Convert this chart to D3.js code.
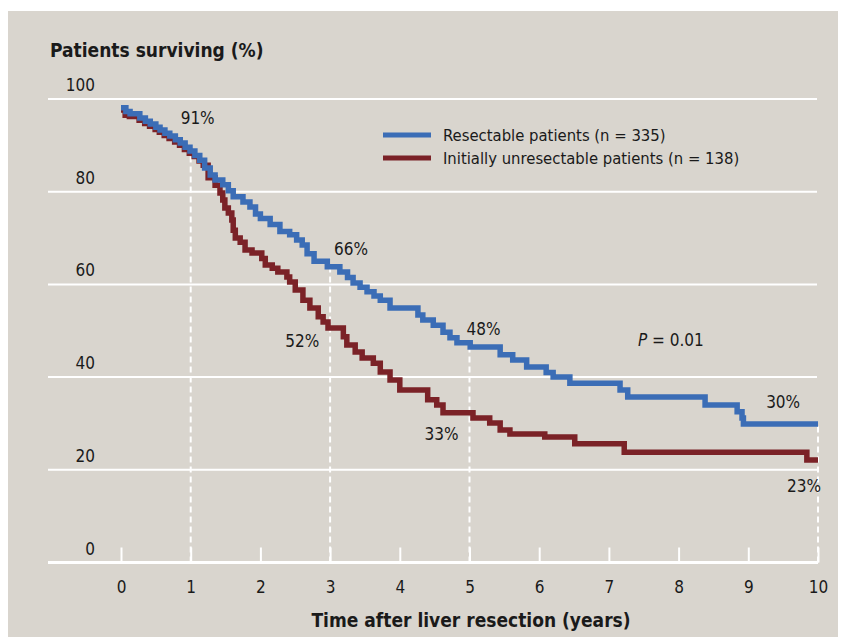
<!DOCTYPE html>
<html>
<head>
<meta charset="utf-8">
<script src="https://cdn.jsdelivr.net/npm/d3@7"></script>
<style>
  body { margin: 0; background: #fff; }
  text { font-family: "DejaVu Sans Condensed", "Liberation Sans Narrow", "Open Sans", sans-serif; fill: #1a1a1a; }
</style>
</head>
<body>
<svg id="chart" width="851" height="637"></svg>
<script>
// survival curves, [years, % surviving] at each step
var resectable = [
  [0, 98.1], [0.07, 97.3], [0.13, 96.8], [0.27, 95.9], [0.35, 95.2], [0.42, 94.6], [0.5, 93.9],
  [0.56, 93.3], [0.63, 92.6], [0.7, 92.0], [0.78, 91.2], [0.85, 90.5], [0.92, 89.6], [0.99, 88.8],
  [1.06, 87.8], [1.13, 86.8], [1.2, 85.1], [1.28, 83.6], [1.35, 82.5], [1.46, 81.5], [1.54, 80.2],
  [1.61, 78.9], [1.75, 77.8], [1.85, 76.7], [1.93, 75.2], [2.0, 74.2], [2.14, 72.9], [2.28, 71.4],
  [2.42, 70.7], [2.52, 69.6], [2.6, 68.5], [2.67, 66.6], [2.77, 65.0], [2.96, 63.8], [3.14, 62.7],
  [3.25, 61.5], [3.33, 60.3], [3.43, 59.4], [3.53, 58.4], [3.63, 57.5], [3.72, 56.6], [3.86, 54.9],
  [4.26, 53.4], [4.33, 52.3], [4.48, 51.2], [4.62, 49.7], [4.72, 48.5], [4.82, 47.4], [5.01, 46.5],
  [5.44, 44.8], [5.62, 43.7], [5.82, 42.2], [6.1, 41.0], [6.2, 40.0], [6.44, 38.7], [7.16, 37.2],
  [7.27, 35.7], [8.38, 34.0], [8.84, 32.5], [8.91, 31.2], [8.93, 29.9], [10, 29.9]
];
var unresectable = [
  [0, 97.6], [0.06, 96.5], [0.12, 96.2], [0.26, 95.4], [0.34, 94.7], [0.41, 94.1], [0.49, 93.4],
  [0.55, 92.8], [0.62, 92.1], [0.69, 91.5], [0.77, 90.7], [0.84, 90.0], [0.91, 89.1], [0.98, 88.3],
  [1.05, 87.6], [1.12, 86.6], [1.18, 85.7], [1.25, 83.0], [1.35, 81.4],
  [1.42, 79.7], [1.46, 78.2], [1.49, 76.5], [1.54, 75.4], [1.59, 73.9], [1.61, 71.7], [1.64, 70.0],
  [1.71, 69.1], [1.78, 67.4], [1.88, 66.8], [2.02, 65.6], [2.07, 64.2], [2.17, 63.5], [2.25, 62.7],
  [2.38, 61.6], [2.42, 60.5], [2.5, 58.8], [2.61, 56.6], [2.71, 54.9], [2.83, 53.0], [2.9, 51.9],
  [2.97, 50.6], [3.19, 48.7], [3.24, 46.9], [3.36, 45.4], [3.46, 44.1], [3.62, 43.0], [3.72, 41.1],
  [3.86, 39.4], [4.0, 37.2], [4.4, 35.1], [4.53, 34.0], [4.62, 32.3], [5.05, 31.2], [5.29, 30.1],
  [5.44, 28.6], [5.58, 27.7], [6.08, 27.1], [6.51, 25.6], [7.22, 23.8], [9.84, 22.1], [10, 22.1]
];
var seriesNames = ["Resectable patients (n = 335)", "Initially unresectable patients (n = 138)"];
var seriesColors = ["#3b6db6", "#7b2227"];
var yearTicks = [0, 1, 2, 3, 4, 5, 6, 7, 8, 9, 10];
var pctTicks = [0, 20, 40, 60, 80, 100];
var markYears = [1, 3, 5, 10];
// annotation labels: [text, year, % position]
var notes = [["91%", 1.1, 94.6], ["66%", 3.3, 66.3], ["52%", 2.6, 46.6], ["48%", 5.2, 49.0], ["33%", 4.6, 26.5], ["30%", 9.5, 33.3], ["23%", 9.8, 15.3]];

var svg = d3.select("#chart");
svg.append("rect").attr("x", 8).attr("y", 11).attr("width", 830).attr("height", 626).style("fill", "#d9d5ce");

var x = d3.scaleLinear().domain([0, 10]).range([121, 818]);
var y = d3.scaleLinear().domain([0, 100]).range([562.5, 99]);

// grid
pctTicks.filter(function(d){ return d > 0; }).forEach(function(d) {
  svg.append("line").attr("x1", 48).attr("x2", 817).attr("y1", y(d)).attr("y2", y(d))
    .style("stroke", "#fff").style("stroke-width", 2);
});
pctTicks.forEach(function(d) {
  svg.append("text").attr("x", 95).attr("y", y(d) - 8).attr("text-anchor", "end")
    .style("font-size", "17px").text(d);
});

// dashed markers up to the resectable curve
function valueAt(data, t) {
  var v = data[0][1];
  for (var i = 0; i < data.length; i++) { if (data[i][0] <= t) v = data[i][1]; }
  return v;
}
markYears.forEach(function(t) {
  svg.append("line").attr("x1", x(t)).attr("x2", x(t)).attr("y1", y(0)).attr("y2", y(valueAt(resectable, t)))
    .style("stroke", "#fff").style("stroke-width", 2).style("stroke-dasharray", "6,4");
});

// x axis
var xAxis = d3.axisBottom(x).tickValues(yearTicks).tickSize(-15).tickPadding(18);
var gx = svg.append("g").attr("transform", "translate(0," + y(0) + ")").call(xAxis);
gx.select(".domain").remove();
gx.selectAll(".tick line").style("stroke", "#fff").style("stroke-width", 2);
gx.selectAll(".tick text").style("font-size", "17px").style("fill", "#1a1a1a")
  .style("font-family", "'DejaVu Sans Condensed', 'Liberation Sans Narrow', sans-serif");
svg.append("line").attr("x1", 48).attr("x2", 818).attr("y1", y(0)).attr("y2", y(0))
  .style("stroke", "#fff").style("stroke-width", 3);

// curves
var line = d3.line().x(function(d){ return x(d[0]); }).y(function(d){ return y(d[1]); }).curve(d3.curveStepAfter);
[unresectable, resectable].forEach(function(data, i) {
  svg.append("path").datum(data).attr("d", line)
    .style("fill", "none").style("stroke", seriesColors[1 - i]).style("stroke-width", 5.5);
});

// legend
seriesNames.forEach(function(name, i) {
  var ly = 135 + i * 23;
  svg.append("line").attr("x1", 383).attr("x2", 431).attr("y1", ly).attr("y2", ly)
    .style("stroke", seriesColors[i]).style("stroke-width", 5);
  svg.append("text").attr("x", 443).attr("y", ly + 6).style("font-size", "16.5px").text(name);
});

// notes
notes.forEach(function(n) {
  svg.append("text").attr("x", x(n[1])).attr("y", y(n[2])).attr("text-anchor", "middle")
    .style("font-size", "17px").text(n[0]);
});
var p = svg.append("text").attr("x", 638).attr("y", 346).style("font-size", "17px");
p.append("tspan").style("font-style", "italic").text("P");
p.append("tspan").text(" = 0.01");

// titles
svg.append("text").attr("x", 50).attr("y", 57).style("font-size", "19px").style("font-weight", "bold")
  .text("Patients surviving (%)");
svg.append("text").attr("x", 471).attr("y", 627).attr("text-anchor", "middle")
  .style("font-size", "19px").style("font-weight", "bold").text("Time after liver resection (years)");
</script>
</body>
</html>
